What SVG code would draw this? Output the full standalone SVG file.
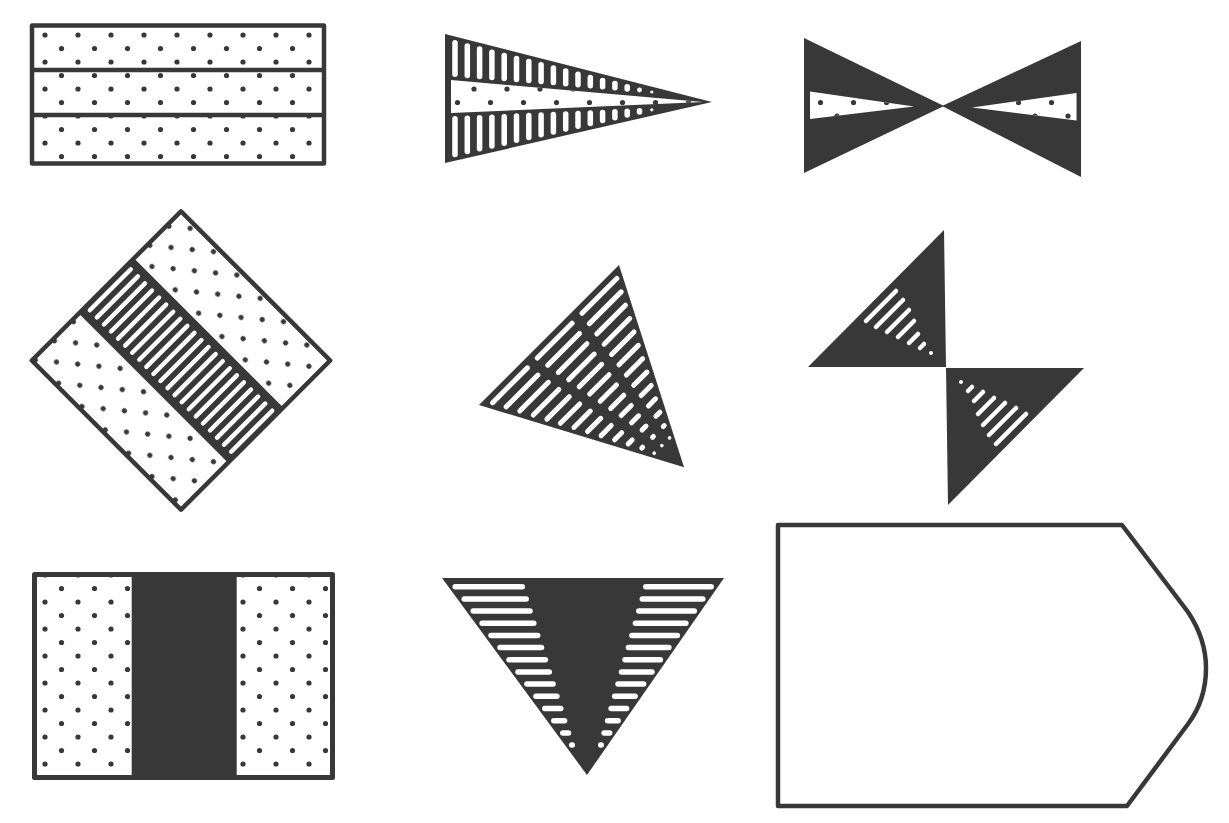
<svg xmlns="http://www.w3.org/2000/svg" width="1229" height="823" viewBox="0 0 1229 823">
<defs>
<style>
.dk{fill:#383838}
.ol{fill:none;stroke:#383838;stroke-width:4.5;stroke-linejoin:round}
.wt{fill:#fff}
.dt{fill:url(#dots)}
.sl{stroke:#fff;stroke-linecap:round;fill:none}
</style>
<pattern id="dots" width="33" height="27" patternUnits="userSpaceOnUse" x="4" y="2">
<circle cx="8" cy="6" r="2.6" fill="#383838"/>
<circle cx="24.5" cy="19.5" r="2.6" fill="#383838"/>
</pattern>
</defs>
<rect width="1229" height="823" fill="#fff"/>

<!-- 1: three dotted stripes -->
<g id="flag1">
<rect x="32" y="25.5" width="292" height="138" class="wt"/>
<rect x="32" y="25.5" width="292" height="138" class="dt"/>
<line x1="32" y1="70" x2="324" y2="70" stroke="#383838" stroke-width="4.5"/>
<line x1="32" y1="115" x2="324" y2="115" stroke="#383838" stroke-width="4.5"/>
<rect x="32" y="25.5" width="292" height="138" class="ol"/>
</g>

<!-- 2: pennant -->
<g id="flag2">
<polygon points="445,34 445,163 712,102" class="dk"/>
<polygon points="451,80 703,102 451,113" class="wt"/>
<polygon points="451,80 703,102 451,113" class="dt"/>
<g class="sl" stroke-width="5.5">
<line x1="455" y1="42.8" x2="455" y2="74.3"/>
<line x1="467.3" y1="45.9" x2="467.3" y2="75.4"/>
<line x1="479.6" y1="49.1" x2="479.6" y2="76.4"/>
<line x1="491.9" y1="52.2" x2="491.9" y2="77.5"/>
<line x1="504.2" y1="55.4" x2="504.2" y2="78.5"/>
<line x1="516.5" y1="58.5" x2="516.5" y2="79.5"/>
<line x1="528.8" y1="61.6" x2="528.8" y2="80.6"/>
<line x1="541.1" y1="64.8" x2="541.1" y2="81.6"/>
<line x1="553.4" y1="67.9" x2="553.4" y2="82.6"/>
<line x1="565.7" y1="71.1" x2="565.7" y2="83.7"/>
<line x1="578" y1="74.2" x2="578" y2="84.7"/>
<line x1="590.3" y1="77.4" x2="590.3" y2="85.7"/>
<line x1="602.6" y1="80.5" x2="602.6" y2="86.8"/>
<line x1="614.9" y1="83.6" x2="614.9" y2="87.8"/>
<line x1="627.2" y1="86.8" x2="627.2" y2="88.9"/>
<line x1="455" y1="118.8" x2="455" y2="154.4"/>
<line x1="467.3" y1="118.3" x2="467.3" y2="151.6"/>
<line x1="479.6" y1="117.8" x2="479.6" y2="148.8"/>
<line x1="491.9" y1="117.2" x2="491.9" y2="146"/>
<line x1="504.2" y1="116.7" x2="504.2" y2="143.2"/>
<line x1="516.5" y1="116.1" x2="516.5" y2="140.3"/>
<line x1="528.8" y1="115.6" x2="528.8" y2="137.5"/>
<line x1="541.1" y1="115.1" x2="541.1" y2="134.7"/>
<line x1="553.4" y1="114.5" x2="553.4" y2="131.9"/>
<line x1="565.7" y1="114" x2="565.7" y2="129.1"/>
<line x1="578" y1="113.4" x2="578" y2="126.2"/>
<line x1="590.3" y1="112.9" x2="590.3" y2="123.4"/>
<line x1="602.6" y1="112.4" x2="602.6" y2="120.6"/>
<line x1="614.9" y1="111.8" x2="614.9" y2="117.8"/>
<line x1="627.2" y1="111.3" x2="627.2" y2="115"/>
<line x1="639.5" y1="110.7" x2="639.5" y2="112.1"/>
</g>
<circle cx="639.5" cy="90" r="2.4" fill="#fff"/>
<circle cx="651.8" cy="92" r="1.6" fill="#fff"/>
<circle cx="651.8" cy="109.8" r="1.6" fill="#fff"/>
</g>

<!-- 3: bow tie -->
<g id="flag3">
<polygon points="804,38 804,173 944,106" class="dk"/>
<polygon points="1081,41 1081,177 942,106" class="dk"/>
<polygon points="810,91.5 914,106.5 810,119" class="wt"/>
<polygon points="810,91.5 914,106.5 810,119" class="dt"/>
<polygon points="972,107.5 1076.5,93 1076.5,120.5" class="wt"/>
<polygon points="972,107.5 1076.5,93 1076.5,120.5" class="dt"/>
</g>

<!-- 4: tilted square -->
<g id="flag4" transform="translate(181,360.5) rotate(45)">
<rect x="-105.5" y="-105.5" width="211" height="211" class="wt"/>
<rect x="-105.5" y="-105.5" width="211" height="211" class="dt"/>
<rect x="-105.5" y="-39" width="211" height="78" class="dk"/>
<g class="sl" stroke-width="4.4">
<line x1="-100" y1="-29" x2="-100" y2="29"/>
<line x1="-90" y1="-29" x2="-90" y2="29"/>
<line x1="-80" y1="-29" x2="-80" y2="29"/>
<line x1="-70" y1="-29" x2="-70" y2="29"/>
<line x1="-60" y1="-29" x2="-60" y2="29"/>
<line x1="-50" y1="-29" x2="-50" y2="29"/>
<line x1="-40" y1="-29" x2="-40" y2="29"/>
<line x1="-30" y1="-29" x2="-30" y2="29"/>
<line x1="-20" y1="-29" x2="-20" y2="29"/>
<line x1="-10" y1="-29" x2="-10" y2="29"/>
<line x1="0" y1="-29" x2="0" y2="29"/>
<line x1="10" y1="-29" x2="10" y2="29"/>
<line x1="20" y1="-29" x2="20" y2="29"/>
<line x1="30" y1="-29" x2="30" y2="29"/>
<line x1="40" y1="-29" x2="40" y2="29"/>
<line x1="50" y1="-29" x2="50" y2="29"/>
<line x1="60" y1="-29" x2="60" y2="29"/>
<line x1="70" y1="-29" x2="70" y2="29"/>
<line x1="80" y1="-29" x2="80" y2="29"/>
<line x1="90" y1="-29" x2="90" y2="29"/>
<line x1="100" y1="-29" x2="100" y2="29"/>
</g>
<rect x="-105.5" y="-105.5" width="211" height="211" class="ol"/>
</g>

<!-- 5: striped triangle -->
<g id="flag5" transform="translate(479,405) rotate(-45)">
<polygon points="0,0 198,0 101,189" class="dk"/>
<g class="sl" stroke-width="5">
<path d="M11.3,8H60.5M74.5,8H123.7M137.7,8H186.9"/>
<path d="M17.9,20.5H62.8M76.8,20.5H121.6M135.6,20.5H180.5"/>
<path d="M24.6,33H65.1M79.1,33H119.6M133.6,33H174.1"/>
<path d="M31.3,45.5H67.4M81.4,45.5H117.5M131.5,45.5H167.7"/>
<path d="M38,58H69.7M83.7,58H115.5M129.5,58H161.2"/>
<path d="M44.6,70.5H72M86,70.5H113.4M127.4,70.5H154.8"/>
<path d="M51.3,83H74.4M88.4,83H111.4M125.4,83H148.4"/>
<path d="M58,95.5H76.7M90.7,95.5H109.3M123.3,95.5H142"/>
<path d="M64.7,108H79M93,108H107.3M121.3,108H135.6"/>
<path d="M71.3,120.5H81.3M95.3,120.5H105.2M119.2,120.5H129.2"/>
<path d="M78,133H83.6M97.6,133H103.2M117.2,133H122.8"/>
<path d="M84.7,145.5H85.9M99.9,145.5H101.1M115.1,145.5H116.4"/>
</g>
<circle cx="89.8" cy="158" r="1.8" fill="#fff"/>
<circle cx="100.6" cy="158" r="1.8" fill="#fff"/>
<circle cx="111.5" cy="158" r="1.8" fill="#fff"/>
</g>

<!-- 6: two triangles -->
<g id="flag6">
<g id="tri6a">
<polygon points="944,230 808,367 946,367" class="dk"/>
<g class="sl" stroke-width="4.5">
<line x1="866" y1="321" x2="896" y2="291"/>
<line x1="876" y1="327" x2="903" y2="300"/>
<line x1="887" y1="332" x2="909" y2="310"/>
<line x1="898" y1="337" x2="914" y2="321"/>
<line x1="909" y1="343" x2="918" y2="334"/>
<line x1="920" y1="348" x2="924" y2="344"/>
</g>
<circle cx="931" cy="353" r="2" fill="#fff"/>
</g>
<g id="tri6b" transform="rotate(180 946 367.5)">
<polygon points="944,230 808,367 946,367" class="dk"/>
<g class="sl" stroke-width="4.5">
<line x1="866" y1="321" x2="896" y2="291"/>
<line x1="876" y1="327" x2="903" y2="300"/>
<line x1="887" y1="332" x2="909" y2="310"/>
<line x1="898" y1="337" x2="914" y2="321"/>
<line x1="909" y1="343" x2="918" y2="334"/>
<line x1="920" y1="348" x2="924" y2="344"/>
</g>
<circle cx="931" cy="353" r="2" fill="#fff"/>
</g>
</g>

<!-- 7: dotted / dark / dotted -->
<g id="flag7">
<rect x="34.5" y="574.5" width="298" height="203" class="wt"/>
<rect x="34.5" y="574.5" width="298" height="203" class="dt"/>
<rect x="131.7" y="574.5" width="105" height="203" class="dk"/>
<rect x="34.5" y="574.5" width="298" height="203" class="ol" style="stroke-width:5"/>
</g>

<!-- 8: inverted triangle -->
<g id="flag8">
<polygon points="442,578 724,578 587,775" class="dk"/>
<g class="sl" stroke-width="5.5">
<path d="M455.2,586.7H522.3M645.8,586.7H711.2"/>
<path d="M464.2,598.9H526.2M642.3,598.9H702.8"/>
<path d="M473.2,611.1H530M638.8,611.1H694.3"/>
<path d="M482.1,623.2H533.8M635.4,623.2H685.9"/>
<path d="M491,635.4H537.7M631.9,635.4H677.4"/>
<path d="M500,647.6H541.5M628.4,647.6H668.9"/>
<path d="M509,659.8H545.4M625,659.8H660.4"/>
<path d="M518,672H549.3M621.5,672H652"/>
<path d="M526.9,684.1H553.1M618,684.1H643.6"/>
<path d="M535.9,696.3H556.9M614.6,696.3H635.1"/>
<path d="M544.8,708.5H560.8M611.1,708.5H626.6"/>
<path d="M553.8,720.7H564.6M607.6,720.7H618.1"/>
<path d="M562.8,732.9H568.5M604.1,732.9H609.6"/>
<path d="M571.7,745H572.3M600.7,745H601.2"/>
</g>
</g>

<!-- 9: outline shape -->
<g id="flag9">
<path d="M778,525 H1122 L1188,612 C1200,630 1206,648 1206,668 C1206,690 1200,708 1188,724 L1127,806 H778 Z" class="ol"/>
</g>
</svg>
